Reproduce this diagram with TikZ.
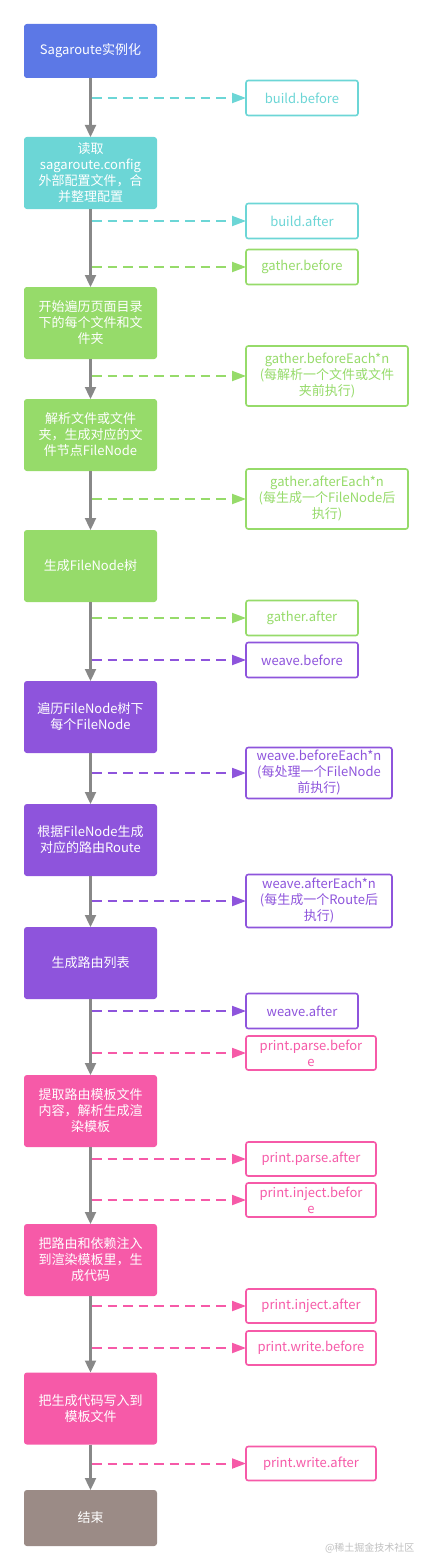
\documentclass[tikz,border=0pt]{standalone}
\usepackage{fontspec}
\setmainfont{Noto Sans CJK SC}
\usetikzlibrary{positioning, arrows.meta}
\definecolor{sagablue}{RGB}{92,120,230}
\definecolor{sagacyan}{RGB}{108,214,214}
\definecolor{sagagreen}{RGB}{150,219,106}
\definecolor{sagapurple}{RGB}{142,84,220}
\definecolor{sagapink}{RGB}{246,90,168}
\definecolor{sagabrown}{RGB}{155,139,134}
\definecolor{flowgray}{RGB}{136,136,136}
\tikzset{stage/.style={fill=#1, text=white, rounded corners=0.1cm, minimum width=133pt, minimum height=72pt, align=center, inner sep=2pt, outer sep=0pt, font=\fontsize{13pt}{16pt}\selectfont},
hook/.style={draw=#1, text=#1, line width=1.6pt, rounded corners=0.08cm, fill=white, minimum width=112pt, minimum height=35pt, align=center, inner sep=1pt, outer sep=0pt, font=\fontsize{13pt}{16pt}\selectfont},
flow/.style={draw=flowgray, line width=2.3pt, -{Triangle[length=12pt,width=11pt]}},
hookline/.style={draw=#1, line width=2pt, dash pattern=on 9.5pt off 6pt, -{Triangle[length=14pt,width=10pt]}}
}

\begin{document}
\begin{tikzpicture}[x=1pt, y=1pt]
\useasboundingbox (0,0) rectangle (432,-1568);

% main column
\node[stage=sagablue, minimum height=54pt] (init) at (90.5,-51) {Sagaroute实例化};
\node[stage=sagacyan, below=59pt of init] (config) {读取\\sagaroute.config\\外部配置文件，合\\并整理配置};
\node[stage=sagagreen, below=78pt of config] (walk) {开始遍历页面目录\\下的每个文件和文\\件夹};
\node[stage=sagagreen, below=40pt of walk] (parse) {解析文件或文件\\夹，生成对应的文\\件节点FileNode};
\node[stage=sagagreen, below=59pt of parse] (tree) {生成FileNode树};
\node[stage=sagapurple, below=79pt of tree] (visit) {遍历FileNode树下\\每个FileNode};
\node[stage=sagapurple, below=51pt of visit] (route) {根据FileNode生成\\对应的路由Route};
\node[stage=sagapurple, below=51pt of route] (list) {生成路由列表};
\node[stage=sagapink, below=76pt of list] (tpl) {提取路由模板文件\\内容，解析生成渲\\染模板};
\node[stage=sagapink, below=77pt of tpl] (inject) {把路由和依赖注入\\到渲染模板里，生\\成代码};
\node[stage=sagapink, below=76.5pt of inject] (write) {把生成代码写入到\\模板文件};
\node[stage=sagabrown, minimum height=56pt, below=45.5pt of write] (done) {结束};

% hooks
\node[hook=sagacyan, right=155.5pt of init.south, yshift=-20pt] (buildbefore) {build.before};
\node[hook=sagacyan, right=155.5pt of config.south, yshift=-12pt] (buildafter) {build.after};
\node[hook=sagagreen, right=155.5pt of config.south, yshift=-58pt] (gatherbefore) {gather.before};
\node[hook=sagagreen, minimum width=162pt, minimum height=60pt, right=155.5pt of walk.south, yshift=-17pt] (gathereach) {gather.beforeEach*n\\(每解析一个文件或文件\\夹前执行)};
\node[hook=sagagreen, minimum width=162pt, minimum height=60pt, right=155.5pt of parse.south, yshift=-28pt] (gatheraftereach) {gather.afterEach*n\\(每生成一个FileNode后\\执行)};
\node[hook=sagagreen, right=155.5pt of tree.south, yshift=-16pt] (gatherafter) {gather.after};
\node[hook=sagapurple, right=155.5pt of tree.south, yshift=-58pt] (weavebefore) {weave.before};
\node[hook=sagapurple, minimum width=146pt, minimum height=51pt, right=155.5pt of visit.south, yshift=-20pt] (weaveeach) {weave.beforeEach*n\\(每处理一个FileNode\\前执行)};
\node[hook=sagapurple, minimum width=146pt, minimum height=53pt, right=155.5pt of route.south, yshift=-25pt] (weaveaftereach) {weave.afterEach*n\\(每生成一个Route后\\执行)};
\node[hook=sagapurple, right=155.5pt of list.south, yshift=-12pt] (weaveafter) {weave.after};
\node[hook=sagapink, minimum width=130pt, minimum height=34pt, right=155.5pt of list.south, yshift=-54pt] (parsebefore) {print.parse.befor\\e};
\node[hook=sagapink, minimum width=130pt, minimum height=34pt, right=155.5pt of tpl.south, yshift=-12pt] (parseafter) {print.parse.after};
\node[hook=sagapink, minimum width=130pt, minimum height=34pt, right=155.5pt of tpl.south, yshift=-53pt] (injectbefore) {print.inject.befor\\e};
\node[hook=sagapink, minimum width=130pt, minimum height=34pt, right=155.5pt of inject.south, yshift=-10pt] (injectafter) {print.inject.after};
\node[hook=sagapink, minimum width=130pt, minimum height=34pt, right=155.5pt of inject.south, yshift=-52pt] (writebefore) {print.write.before};
\node[hook=sagapink, minimum width=130pt, minimum height=34pt, right=155.5pt of write.south, yshift=-19pt] (writeafter) {print.write.after};

\node[text=black!25, font=\fontsize{10pt}{12pt}\selectfont, anchor=east] (mark) at (418,-1548) {@稀土掘金技术社区};

% flow
\draw[flow] (init) -- (config);
\draw[flow] (config) -- (walk);
\draw[flow] (walk) -- (parse);
\draw[flow] (parse) -- (tree);
\draw[flow] (tree) -- (visit);
\draw[flow] (visit) -- (route);
\draw[flow] (route) -- (list);
\draw[flow] (list) -- (tpl);
\draw[flow] (tpl) -- (inject);
\draw[flow] (inject) -- (write);
\draw[flow] (write) -- (done);

% hook calls
\draw[hookline=sagacyan] ([xshift=1.5pt]init.south |- buildbefore.west) -- (buildbefore.west);
\draw[hookline=sagacyan] ([xshift=1.5pt]config.south |- buildafter.west) -- (buildafter.west);
\draw[hookline=sagagreen] ([xshift=1.5pt]config.south |- gatherbefore.west) -- (gatherbefore.west);
\draw[hookline=sagagreen] ([xshift=1.5pt]walk.south |- gathereach.west) -- (gathereach.west);
\draw[hookline=sagagreen] ([xshift=1.5pt]parse.south |- gatheraftereach.west) -- (gatheraftereach.west);
\draw[hookline=sagagreen] ([xshift=1.5pt]tree.south |- gatherafter.west) -- (gatherafter.west);
\draw[hookline=sagapurple] ([xshift=1.5pt]tree.south |- weavebefore.west) -- (weavebefore.west);
\draw[hookline=sagapurple] ([xshift=1.5pt]visit.south |- weaveeach.west) -- (weaveeach.west);
\draw[hookline=sagapurple] ([xshift=1.5pt]route.south |- weaveaftereach.west) -- (weaveaftereach.west);
\draw[hookline=sagapurple] ([xshift=1.5pt]list.south |- weaveafter.west) -- (weaveafter.west);
\draw[hookline=sagapink] ([xshift=1.5pt]list.south |- parsebefore.west) -- (parsebefore.west);
\draw[hookline=sagapink] ([xshift=1.5pt]tpl.south |- parseafter.west) -- (parseafter.west);
\draw[hookline=sagapink] ([xshift=1.5pt]tpl.south |- injectbefore.west) -- (injectbefore.west);
\draw[hookline=sagapink] ([xshift=1.5pt]inject.south |- injectafter.west) -- (injectafter.west);
\draw[hookline=sagapink] ([xshift=1.5pt]inject.south |- writebefore.west) -- (writebefore.west);
\draw[hookline=sagapink] ([xshift=1.5pt]write.south |- writeafter.west) -- (writeafter.west);
\end{tikzpicture}
\end{document}
